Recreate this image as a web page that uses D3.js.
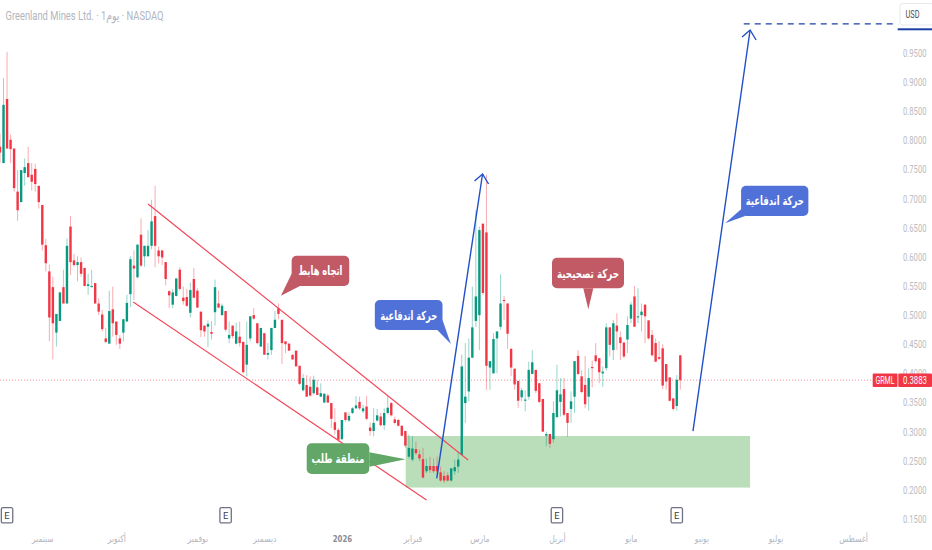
<!DOCTYPE html>
<html>
<head>
<meta charset="utf-8">
<script src="https://d3js.org/d3.v7.min.js"></script>
<style>
  html, body { margin: 0; padding: 0; background: #fff; }
  svg { display: block; }
  text { font-family: Roboto, "DejaVu Sans", sans-serif; }
  .ar { font-family: "DejaVu Sans", sans-serif; }
</style>
</head>
<body>
<div id="chart"></div>
<script>
// daily candles
const opens = [
  .789,.761,.871,.801,.786,.712,.694,.744,.761,.741,.751,.722,.689,.620,.575,.548,.470,.490,.548,.520,
  .652,.594,.586,.591,.581,.550,.548,.555,.520,.501,.460,.451,.510,.489,.460,.470,.489,.536,.585,.565,
  .638,.601,.601,.619,.670,.611,.611,.591,.541,.518,.533,.578,.530,.531,.504,.562,.542,.506,.482,.480,
  .471,.505,.520,.500,.507,.460,.482,.451,.463,.454,.415,.460,.500,.486,.446,.469,.432,.440,.478,.512,
  .492,.455,.451,.432,.439,.413,.371,.380,.377,.366,.376,.360,.350,.362,.349,.316,.303,.287,.333,.319,
  .332,.340,.351,.335,.343,.307,.301,.319,.326,.311,.332,.349,.321,.320,.310,.301,.257,.252,.270,.261,
  .253,.232,.241,.241,.241,.230,.224,.225,.216,.232,.240,.260,.349,.369,.427,.490,.500,.657,.642,.410,
  .400,.460,.480,.526,.520,.442,.408,.387,.359,.353,.360,.399,.406,.383,.356,.293,.296,.287,.325,.351,
  .373,.332,.339,.360,.430,.395,.380,.360,.411,.431,.426,.400,.409,.479,.440,.482,.462,.453,.458,.494,
  .532,.496,.500,.518,.491,.466,.452,.428,.443,.416,.393,.357,.344,.431];
const highs = [
  .812,.907,.952,.810,.786,.749,.749,.769,.789,.761,.760,.722,.689,.631,.587,.566,.502,.540,.578,.632,
  .670,.605,.601,.599,.581,.571,.578,.555,.529,.509,.478,.542,.549,.489,.466,.493,.535,.601,.611,.621,
  .666,.619,.646,.698,.722,.618,.612,.591,.543,.545,.563,.582,.549,.545,.556,.581,.546,.506,.482,.491,
  .490,.561,.542,.520,.507,.489,.482,.487,.489,.454,.489,.498,.512,.486,.478,.469,.452,.478,.507,.520,
  .492,.455,.452,.432,.439,.413,.399,.397,.395,.396,.389,.383,.366,.365,.349,.340,.306,.320,.333,.333,
  .342,.361,.360,.346,.361,.316,.340,.339,.332,.340,.361,.351,.326,.322,.311,.301,.295,.292,.283,.269,
  .272,.254,.257,.254,.257,.240,.232,.230,.237,.252,.266,.432,.452,.460,.549,.680,.652,.657,.741,.421,
  .469,.472,.570,.533,.520,.444,.408,.387,.375,.371,.420,.440,.406,.383,.356,.300,.296,.352,.415,.392,
  .392,.332,.369,.421,.440,.405,.430,.409,.422,.452,.426,.412,.486,.479,.492,.503,.472,.453,.498,.523,
  .550,.546,.520,.518,.491,.475,.460,.455,.450,.416,.393,.357,.397,.431];
const lows = [
  .761,.761,.786,.761,.712,.662,.694,.722,.735,.714,.712,.683,.611,.575,.455,.424,.446,.490,.520,.520,
  .569,.583,.558,.566,.549,.535,.548,.520,.500,.472,.452,.451,.463,.449,.442,.455,.489,.514,.526,.563,
  .583,.583,.601,.613,.582,.589,.586,.551,.512,.512,.532,.542,.518,.514,.496,.529,.512,.462,.463,.445,
  .458,.482,.512,.499,.472,.452,.460,.450,.446,.400,.395,.455,.492,.450,.446,.432,.424,.432,.478,.493,
  .416,.435,.438,.423,.412,.380,.369,.360,.360,.363,.363,.360,.349,.349,.306,.295,.283,.286,.317,.317,
  .330,.339,.337,.332,.320,.293,.292,.317,.309,.303,.329,.326,.312,.309,.292,.272,.254,.249,.260,.249,
  .220,.229,.229,.229,.229,.214,.212,.214,.214,.226,.229,.260,.315,.352,.426,.480,.440,.535,.372,.372,
  .400,.400,.475,.492,.442,.395,.372,.341,.352,.335,.355,.399,.366,.349,.299,.275,.272,.281,.323,.326,
  .326,.291,.315,.332,.397,.366,.340,.336,.376,.418,.383,.377,.405,.429,.423,.440,.423,.426,.435,.486,
  .480,.486,.472,.452,.458,.429,.420,.423,.373,.372,.352,.336,.336,.372];
const closes = [
  .779,.861,.786,.785,.718,.680,.749,.754,.737,.729,.725,.694,.621,.589,.496,.486,.502,.539,.520,.619,
  .591,.586,.591,.571,.550,.553,.550,.520,.506,.476,.454,.507,.486,.466,.451,.493,.521,.596,.580,.621,
  .585,.619,.619,.661,.619,.601,.599,.562,.534,.539,.563,.545,.524,.516,.543,.530,.513,.474,.472,.485,
  .468,.548,.513,.516,.475,.466,.464,.472,.452,.402,.449,.498,.494,.452,.478,.432,.435,.478,.492,.502,
  .452,.450,.439,.424,.412,.382,.392,.360,.362,.389,.363,.366,.365,.350,.322,.303,.286,.320,.320,.327,
  .340,.345,.340,.340,.322,.301,.315,.328,.311,.332,.341,.328,.315,.310,.293,.276,.272,.271,.263,.254,
  .221,.241,.234,.232,.232,.216,.216,.216,.237,.239,.252,.412,.360,.427,.479,.532,.646,.538,.413,.421,
  .459,.472,.520,.524,.468,.410,.381,.353,.371,.355,.406,.419,.370,.351,.300,.296,.279,.332,.371,.364,
  .329,.315,.352,.421,.399,.368,.347,.392,.409,.421,.402,.403,.479,.449,.486,.472,.452,.429,.483,.518,
  .480,.498,.506,.498,.460,.431,.420,.425,.379,.386,.353,.339,.389,.3883];

const priceTicks = [.95,.9,.85,.8,.75,.7,.65,.6,.55,.5,.45,.4,.35,.3,.25,.2,.15];
const monthLabels = ["سبتمبر","أكتوبر","نوفمبر","ديسمبر","2026","فبراير","مارس","أبريل","مايو","يونيو","يوليو","أغسطس"];
const monthIndex = [12,33,56,75,97,117,136,158,179,199,220,242];
const earningsIndex = [2,64,158,192];

// drawings on the chart, as [candle index, price]
const channelUpper = [[42,.6908],[132.8,.2513]];
const channelLower = [[37.8,.5225],[121,.1826]];
const arrowOne = [[123.9,.2198],[136.9,.7423]];
const arrowTwo = [[196.6,.301],[212.8,.9895]];
const targetLine = [[211,1.0],[254,1.0]];
const demandZone = [[115.1,.2925],[212.8,.204]];
const lastPrice = .3883;

const width = 932, height = 550;
const red = "#f23645", green = "#089981", blue = "#2050c8";

const x = d3.scaleLinear().domain([0,193]).range([0,680.3]);
const y = d3.scaleLinear().domain([.95,.15]).range([53,519]);

const svg = d3.select("#chart").append("svg").attr("width",width).attr("height",height);

// the fonts here are wider than the original, so squeeze a text to a given width
const fit = (sel, w) => sel.attr("lengthAdjust","spacingAndGlyphs").attr("textLength",w);

// title
svg.append("text").attr("x",5.5).attr("y",19.5).attr("fill","#b2b5be").attr("font-size",13)
  .attr("direction","ltr").call(fit,158).text("Greenland Mines Ltd. · 1يوم · NASDAQ");

// demand zone goes under the candles
svg.append("rect")
  .attr("x",x(demandZone[0][0])).attr("y",y(demandZone[0][1]))
  .attr("width",x(demandZone[1][0])-x(demandZone[0][0]))
  .attr("height",y(demandZone[1][1])-y(demandZone[0][1]))
  .attr("fill","#b9deb9");

// last price dotted line
svg.append("line").attr("x1",0).attr("x2",873).attr("y1",y(lastPrice)).attr("y2",y(lastPrice))
  .attr("stroke",red).attr("stroke-opacity",.55).attr("stroke-dasharray","1 2");

// candles
const candles = svg.append("g").selectAll("g").data(d3.range(opens.length)).enter().append("g");
const col = i => closes[i] >= opens[i] ? green : red;
candles.append("line")
  .attr("x1",i=>x(i)).attr("x2",i=>x(i))
  .attr("y1",i=>y(highs[i])).attr("y2",i=>y(lows[i]))
  .attr("stroke",col).attr("stroke-opacity",.42).attr("stroke-width",1);
candles.append("rect")
  .attr("x",i=>x(i)-1.2).attr("width",2.4)
  .attr("y",i=>y(Math.max(opens[i],closes[i])))
  .attr("height",i=>Math.max(1,Math.abs(y(opens[i])-y(closes[i]))))
  .attr("fill",col);

// trend lines
const line = d3.line().x(d=>x(d[0])).y(d=>y(d[1]));
[channelUpper,channelLower].forEach(c => {
  svg.append("path").attr("d",line(c)).attr("fill","none").attr("stroke","#f2485a").attr("stroke-width",1.2);
});
[arrowOne,arrowTwo].forEach(a => {
  svg.append("path").attr("d",line(a)).attr("fill","none").attr("stroke",blue).attr("stroke-width",1.4);
  const tx = x(a[1][0]), ty = y(a[1][1]);
  svg.append("path").attr("d",`M${tx-8},${ty+7}L${tx},${ty}L${tx+6},${ty+10}`)
    .attr("fill","none").attr("stroke",blue).attr("stroke-width",1.4);
});
svg.append("path").attr("d",line(targetLine)).attr("fill","none").attr("stroke","#1c3fa8")
  .attr("stroke-width",1.2).attr("stroke-dasharray","6 5");

// callouts: tip is on the chart, box and tail are offsets from it
const callouts = [
  {label:"اتجاه هابط", tip:[79.7,.5333], fill:"#c25a66", box:[10.7,-40,57.6,30.3], tail:[[10.7,-22],[19,-9.7]], w:44},
  {label:"حركة اندفاعية", tip:[127.9,.4504], fill:"#5072d8", box:[-76,-44,67.7,30], tail:[[-13.5,-14],[-8.3,-24]], w:57},
  {label:"منطقة طلب", tip:[115.1,.2525], fill:"#62a768", box:[-99,-16,62.6,30.7], tail:[[-36.4,-7],[-36.4,7.4]], w:53},
  {label:"حركة تصحيحية", tip:[166.9,.51], fill:"#c25a66", box:[-36.3,-51.6,72,30.6], tail:[[-5,-21],[5,-21]], w:62},
  {label:"حركة اندفاعية", tip:[205.7,.6576], fill:"#5072d8", box:[16,-37.6,67.3,30.3], tail:[[16,-14],[20,-7.3]], w:58}
];
callouts.forEach(c => {
  const tx = x(c.tip[0]), ty = y(c.tip[1]);
  const g = svg.append("g").attr("transform",`translate(${tx},${ty})`);
  g.append("rect").attr("x",c.box[0]).attr("y",c.box[1]).attr("width",c.box[2]).attr("height",c.box[3])
    .attr("rx",5).attr("fill",c.fill);
  g.append("path").attr("d",`M0,0L${c.tail[0]}L${c.tail[1]}Z`).attr("fill",c.fill);
  g.append("text").attr("class","ar")
    .attr("x",c.box[0]+c.box[2]/2).attr("y",c.box[1]+c.box[3]/2+4.5)
    .attr("text-anchor","middle").attr("fill","#fff").attr("font-size",12.5).attr("font-weight","bold")
    .call(fit,c.w).text(c.label);
});

// price axis
const yAxis = svg.append("g").attr("transform","translate(898,0)")
  .call(d3.axisRight(y).tickValues(priceTicks).tickSize(0).tickPadding(5).tickFormat(d3.format(".4f")));
yAxis.select(".domain").remove();
yAxis.selectAll("text").attr("fill","#b8bbc2").attr("font-size",10.5).attr("font-family","Roboto, sans-serif").call(fit,23.5);

// time axis
const xAxis = svg.append("g").attr("transform","translate(0,533)")
  .call(d3.axisBottom(x).tickValues(monthIndex).tickSize(0).tickPadding(2).tickFormat((d,i)=>monthLabels[i]));
xAxis.select(".domain").remove();
xAxis.selectAll("text").attr("class","ar").attr("fill","#b2b5be").attr("font-size",9.5)
  .each(function() { fit(d3.select(this), this.getComputedTextLength()*.8); })
  .filter((d,i)=>monthLabels[i]==="2026").attr("fill","#8a8d96").attr("font-weight","bold");

// earnings markers
const marks = svg.append("g").selectAll("g").data(earningsIndex).enter().append("g")
  .attr("transform",d=>`translate(${x(d)},515.3)`);
marks.append("rect").attr("x",-5.7).attr("y",-7.6).attr("width",11.4).attr("height",15.2).attr("rx",1.5)
  .attr("fill","#fff").attr("stroke","#6f7285").attr("stroke-width",1.3);
marks.append("text").attr("text-anchor","middle").attr("y",3.5).attr("font-size",9.5).attr("fill","#3d3f4a").text("E");

// last price tags
const tagY = y(lastPrice);
svg.append("rect").attr("x",872.7).attr("y",tagY-6.8).attr("width",24.8).attr("height",13.6).attr("rx",1).attr("fill",red);
svg.append("rect").attr("x",898.3).attr("y",tagY-6.8).attr("width",33.7).attr("height",13.6).attr("rx",1).attr("fill",red);
svg.append("text").attr("x",885).attr("y",tagY+3.8).attr("text-anchor","middle").attr("fill","#fff").attr("font-size",10.5).call(fit,19).text("GRML");
svg.append("text").attr("x",915).attr("y",tagY+3.8).attr("text-anchor","middle").attr("fill","#fff").attr("font-size",10.5).call(fit,24).text(lastPrice.toFixed(4));

// currency button and the target mark on the axis
svg.append("rect").attr("x",900).attr("y",3.5).attr("width",34).attr("height",21.5).attr("rx",3)
  .attr("fill","#fff").attr("stroke","#e6e8ee");
svg.append("text").attr("x",912.5).attr("y",17.5).attr("text-anchor","middle").attr("fill","#4a4c55").attr("font-size",10.5).call(fit,14).text("USD");
svg.append("rect").attr("x",897.7).attr("y",28.3).attr("width",34.3).attr("height",2).attr("fill","#1c3fa8");
</script>
</body>
</html>
